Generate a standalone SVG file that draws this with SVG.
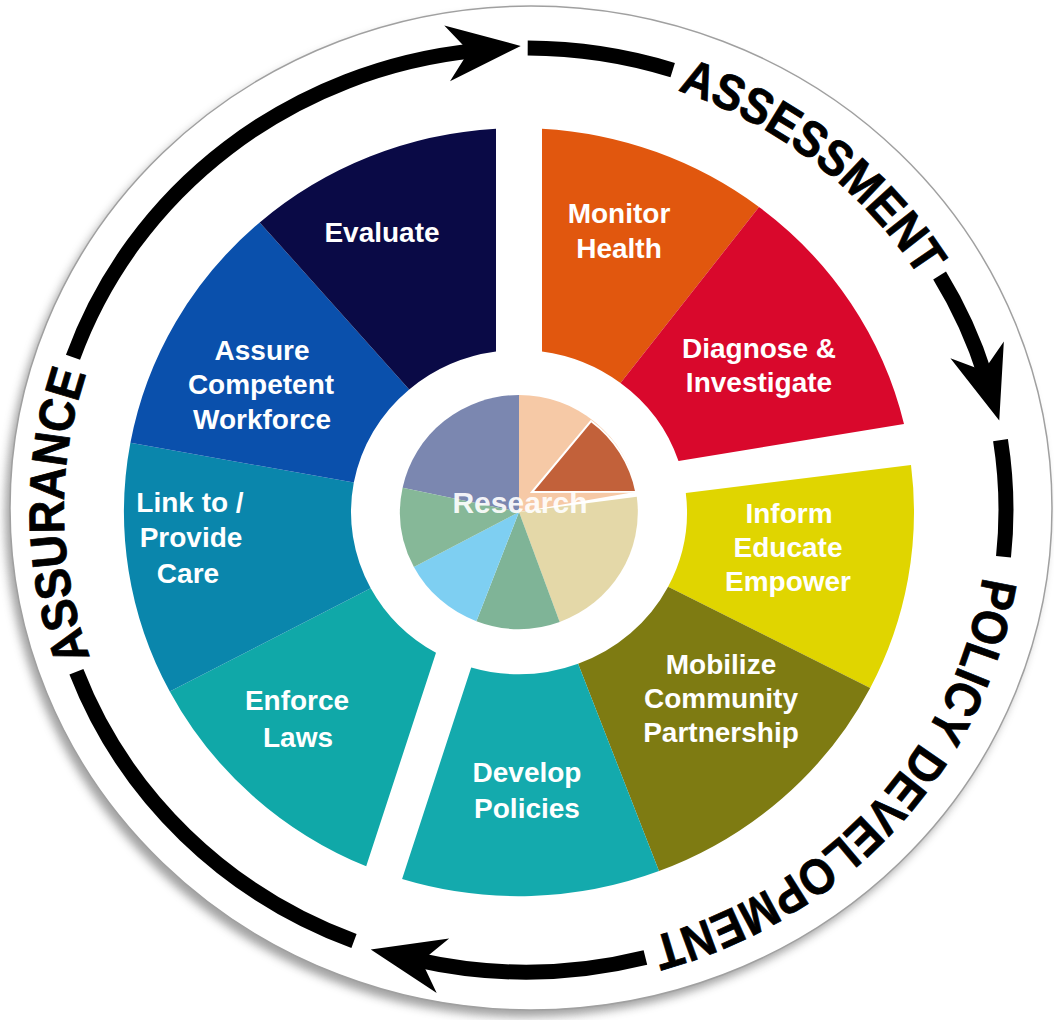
<svg xmlns="http://www.w3.org/2000/svg" width="1054" height="1020" viewBox="0 0 1054 1020">
<defs>
<style>
.lbl{font-family:"Liberation Sans",Arial,sans-serif;font-weight:bold;font-size:28px;fill:#ffffff;text-anchor:middle}
.ring{font-family:"Liberation Sans",Arial,sans-serif;font-weight:bold;font-size:50px;fill:#000000;stroke:#000000;stroke-width:0.8}
.arc{fill:none;stroke:#000000;stroke-width:15}
</style>
<filter id="sh" x="-10%" y="-10%" width="120%" height="120%"><feGaussianBlur stdDeviation="5"/></filter>
<marker id="ah" markerUnits="userSpaceOnUse" orient="auto" refX="0" refY="0" markerWidth="1" markerHeight="1" overflow="visible">
<polygon points="46,0 -28,-28 -10,-5 -10,5 -28,28" fill="#000000"/>
</marker>
<path id="tp" d="M988,510 A462,444 0 1,1 64,510 A462,444 0 1,1 988,510"/>
</defs>
<rect width="1054" height="1020" fill="#ffffff"/>
<g id="disc">
<ellipse cx="526" cy="515" rx="521" ry="502" fill="#7a7a7a" opacity="0.7" filter="url(#sh)"/>
<ellipse cx="531" cy="508" rx="521" ry="502" fill="#ffffff" stroke="#a0a0a0" stroke-width="1.5"/>
</g>
<g id="monitor-health">
<path d="M542,351.5 L542,128.7 A395,384 0 0,1 759,207 L620.5,383 A168,162 0 0,0 542,351.5 Z" fill="#e1570e"/>
<text class="lbl" x="619" y="223">Monitor</text><text class="lbl" x="619" y="258">Health</text>
</g>
<g id="diagnose-investigate">
<path d="M620.5,383 L759,207 A395,384 0 0,1 904,424 L678.5,461 A168,162 0 0,0 620.5,383 Z" fill="#d9082c"/>
<text class="lbl" x="759" y="358">Diagnose &amp;</text><text class="lbl" x="759" y="392">Investigate</text>
</g>
<g id="inform-educate-empower">
<path d="M685.8,493 L911,465 A395,384 0 0,1 870.2,687.9 L668.1,586.7 A168,162 0 0,0 685.8,493 Z" fill="#e0d500"/>
<text class="lbl" x="789" y="523">Inform</text><text class="lbl" x="788" y="557">Educate</text><text class="lbl" x="788" y="591">Empower</text>
</g>
<g id="mobilize-community-partnership">
<path d="M668.1,586.7 L870.2,687.9 A395,384 0 0,1 659,871.1 L578.1,663.7 A168,162 0 0,0 668.1,586.7 Z" fill="#7e7b12"/>
<text class="lbl" x="721" y="674">Mobilize</text><text class="lbl" x="721" y="708">Community</text><text class="lbl" x="721" y="742">Partnership</text>
</g>
<g id="develop-policies">
<path d="M578.1,663.7 L659,871.1 A395,384 0 0,1 402.1,879.1 L471.2,667.4 A168,162 0 0,0 578.1,663.7 Z" fill="#14aaad"/>
<text class="lbl" x="527" y="782">Develop</text><text class="lbl" x="527" y="818">Policies</text>
</g>
<g id="enforce-laws">
<path d="M436,652.8 L366.2,866.3 A395,384 0 0,1 169.8,691.5 L370.7,588.2 A168,162 0 0,0 436,652.8 Z" fill="#10a8a8"/>
<text class="lbl" x="297" y="710">Enforce</text><text class="lbl" x="298" y="747">Laws</text>
</g>
<g id="link-provide-care">
<path d="M370.7,588.2 L169.8,691.5 A395,384 0 0,1 130.4,442.8 L353.8,482.6 A168,162 0 0,0 370.7,588.2 Z" fill="#0a86ac"/>
<text class="lbl" x="190" y="512" text-anchor="start">Link to /</text><text class="lbl" x="191" y="547" text-anchor="start">Provide</text><text class="lbl" x="188" y="583" text-anchor="start">Care</text>
</g>
<g id="assure-competent-workforce">
<path d="M353.8,482.6 L130.4,442.8 A395,384 0 0,1 259.7,222.4 L409.2,389.4 A168,162 0 0,0 353.8,482.6 Z" fill="#0a50ac"/>
<text class="lbl" x="262" y="360">Assure</text><text class="lbl" x="261" y="394">Competent</text><text class="lbl" x="262" y="429">Workforce</text>
</g>
<g id="evaluate">
<path d="M409.2,389.4 L259.7,222.4 A395,384 0 0,1 496,128.7 L496,351.5 A168,162 0 0,0 409.2,389.4 Z" fill="#0a0a46"/>
<text class="lbl" x="382" y="242">Evaluate</text>
</g>
<g id="research">
<path d="M519,512 L402.6,487.7 A119,117 0 0,1 519,395 Z" fill="#7b87b0"/>
<path d="M519,512 L519,395 A119,117 0 0,1 636.2,491.7 Z" fill="#f6c9a6"/>
<path d="M532,492 L591,421 A119,117 0 0,1 636.2,491.7 Z" fill="#c2613a" stroke="#ffffff" stroke-width="2"/>
<path d="M519,512 L636.8,496.7 A119,117 0 0,1 559.7,621.9 Z" fill="#e4d8a8"/>
<path d="M519,512 L559.7,621.9 A119,117 0 0,1 476.4,621.2 Z" fill="#7fb497"/>
<path d="M519,512 L476.4,621.2 A119,117 0 0,1 413.9,566.9 Z" fill="#7ecff2"/>
<path d="M519,512 L413.9,566.9 A119,117 0 0,1 402.6,487.7 Z" fill="#86b898"/>
<text x="520" y="513" text-anchor="middle" font-family="Liberation Sans, Arial, sans-serif" font-weight="bold" font-size="30" fill="#ffffff" fill-opacity="0.92">Research</text>
</g>
<g id="connectors">
<path class="arc" d="M73,357.3 A480,462 0 0,1 475,50.6" marker-end="url(#ah)"/>
<path class="arc" d="M527.7,48 A480,462 0 0,1 672.7,70.1"/>
<path class="arc" d="M939.6,275.5 A480,462 0 0,1 985.5,376.5" marker-end="url(#ah)"/>
<path class="arc" d="M1000.5,440.1 A480,462 0 0,1 1003.5,556.7"/>
<path class="arc" d="M645.4,957.5 A480,462 0 0,1 415.6,959.6" marker-end="url(#ah)"/>
<path class="arc" d="M354,941 A480,462 0 0,1 76.4,671.8"/>
</g>
<g id="phase-labels">
<text class="ring"><textPath href="#tp" startOffset="85.9%" text-anchor="middle" textLength="312" lengthAdjust="spacingAndGlyphs">ASSESSMENT</textPath></text>
<text class="ring"><textPath href="#tp" startOffset="11.46%" text-anchor="middle" textLength="518" lengthAdjust="spacingAndGlyphs">POLICY DEVELOPMENT</textPath></text>
<text class="ring"><textPath href="#tp" startOffset="49.8%" text-anchor="middle" textLength="289" lengthAdjust="spacingAndGlyphs">ASSURANCE</textPath></text>
</g>
</svg>
